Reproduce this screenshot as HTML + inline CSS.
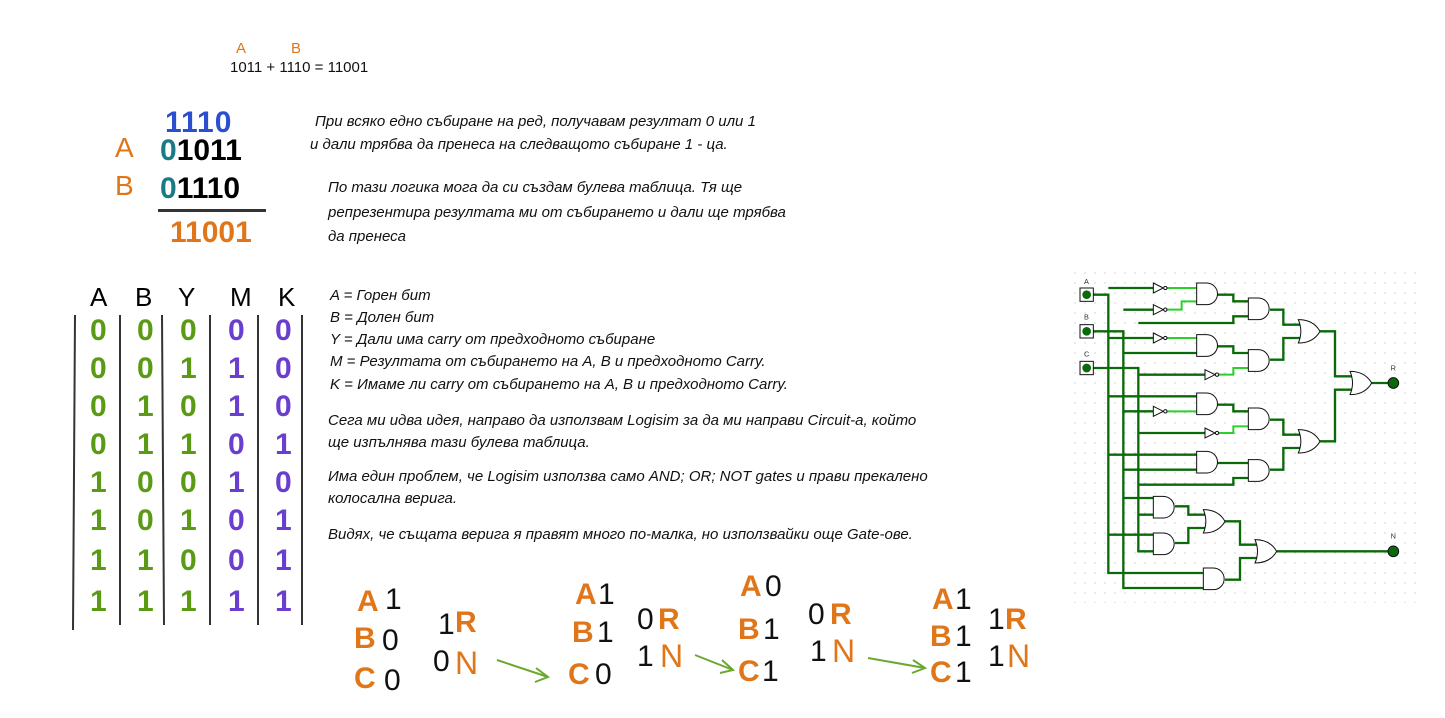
<!DOCTYPE html>
<html><head><meta charset="utf-8"><style>
body{margin:0;width:1445px;height:718px;background:#fff;position:relative;overflow:hidden;font-family:"Liberation Sans",sans-serif;}
.t{position:absolute;white-space:nowrap;color:#111;font-size:15px;font-family:"Liberation Sans","DejaVu Sans",sans-serif;font-style:italic;}
.h{position:absolute;white-space:nowrap;font-weight:bold;font-family:"Liberation Sans",sans-serif;}
.o{color:#e0761a}.g{color:#5a9a14}.p{color:#6a3fd0}.b{color:#2a4fd0}.tl{color:#1a7a85}.k{color:#111}
</style></head><body>
<div>
<span class="h o" style="left:236px;top:40px;font-size:15px;font-weight:normal">A</span>
<span class="h o" style="left:291px;top:40px;font-size:15px;font-weight:normal">B</span>
<span class="t" style="left:230px;top:59px;font-style:normal;font-size:15px">1011 + 1110 = 11001</span>
</div>
<div>
<span class="h b" style="left:165px;top:106px;font-size:30px;letter-spacing:1px">1110</span>
<span class="h o" style="left:115px;top:132px;font-size:28px;font-weight:normal">A</span>
<span class="h" style="left:160px;top:134px;font-size:30px"><span class="tl">0</span>1011</span>
<span class="h o" style="left:115px;top:170px;font-size:28px;font-weight:normal">B</span>
<span class="h" style="left:160px;top:172px;font-size:30px"><span class="tl">0</span>1110</span>
<div style="position:absolute;left:158px;top:209px;width:108px;height:3px;background:#333"></div>
<span class="h o" style="left:170px;top:216px;font-size:30px">11001</span>
</div>
<div>
<span class="t" style="left:315px;top:113px">При всяко едно събиране на ред, получавам резултат 0 или 1</span>
<span class="t" style="left:310px;top:136px">и дали трябва да пренеса на следващото събиране 1 - ца.</span>
<span class="t" style="left:328px;top:179px">По тази логика мога да си създам булева таблица. Тя ще</span>
<span class="t" style="left:328px;top:204px">репрезентира резултата ми от събирането и дали ще трябва</span>
<span class="t" style="left:328px;top:228px">да пренеса</span>
<span class="t" style="left:330px;top:287px">A = Горен бит</span>
<span class="t" style="left:330px;top:309px">B = Долен бит</span>
<span class="t" style="left:330px;top:331px">Y = Дали има carry от предходното събиране</span>
<span class="t" style="left:330px;top:353px">M = Резултата от събирането на A, B и предходното Carry.</span>
<span class="t" style="left:330px;top:376px">K = Имаме ли carry от събирането на A, B и предходното Carry.</span>
<span class="t" style="left:328px;top:412px">Сега ми идва идея, направо да използвам Logisim за да ми направи Circuit-а, който</span>
<span class="t" style="left:328px;top:434px">ще изпълнява тази булева таблица.</span>
<span class="t" style="left:328px;top:468px">Има един проблем, че Logisim използва само AND; OR; NOT gates и прави прекалено</span>
<span class="t" style="left:328px;top:490px">колосална верига.</span>
<span class="t" style="left:328px;top:526px">Видях, че същата верига я правят много по-малка, но използвайки още Gate-ове.</span>
</div>
<div>
<svg width="320" height="350" style="position:absolute;left:60px;top:280px">
<g stroke="#333" stroke-width="2">
<line x1="15" y1="35" x2="13" y2="350"/><line x1="60" y1="35" x2="60" y2="345"/>
<line x1="102" y1="35" x2="104" y2="345"/><line x1="150" y1="35" x2="150" y2="345"/>
<line x1="198" y1="35" x2="198" y2="345"/><line x1="242" y1="35" x2="242" y2="345"/>
</g></svg>
<span class="h" style="left:90px;top:282px;font-size:26px;font-weight:normal">A</span>
<span class="h" style="left:135px;top:282px;font-size:26px;font-weight:normal">B</span>
<span class="h" style="left:178px;top:282px;font-size:26px;font-weight:normal">Y</span>
<span class="h" style="left:230px;top:282px;font-size:26px;font-weight:normal">M</span>
<span class="h" style="left:278px;top:282px;font-size:26px;font-weight:normal">K</span>
<div id="rows"></div>
</div>
<div>
<span class="h o" style="left:357px;top:585px;font-size:30px">A</span><span class="h k" style="left:385px;top:583px;font-size:30px;font-weight:normal">1</span>
<span class="h o" style="left:354px;top:622px;font-size:30px">B</span><span class="h k" style="left:382px;top:624px;font-size:30px;font-weight:normal">0</span>
<span class="h o" style="left:354px;top:662px;font-size:30px">C</span><span class="h k" style="left:384px;top:664px;font-size:30px;font-weight:normal">0</span>
<span class="h k" style="left:438px;top:608px;font-size:30px;font-weight:normal">1</span><span class="h o" style="left:455px;top:606px;font-size:30px">R</span>
<span class="h k" style="left:433px;top:645px;font-size:30px;font-weight:normal">0</span><span class="h o" style="left:455px;top:645px;font-size:32px;font-weight:normal">N</span>

<span class="h o" style="left:575px;top:578px;font-size:30px">A</span><span class="h k" style="left:598px;top:578px;font-size:30px;font-weight:normal">1</span>
<span class="h o" style="left:572px;top:616px;font-size:30px">B</span><span class="h k" style="left:597px;top:616px;font-size:30px;font-weight:normal">1</span>
<span class="h o" style="left:568px;top:658px;font-size:30px">C</span><span class="h k" style="left:595px;top:658px;font-size:30px;font-weight:normal">0</span>
<span class="h k" style="left:637px;top:603px;font-size:30px;font-weight:normal">0</span><span class="h o" style="left:658px;top:603px;font-size:30px">R</span>
<span class="h k" style="left:637px;top:640px;font-size:30px;font-weight:normal">1</span><span class="h o" style="left:660px;top:638px;font-size:32px;font-weight:normal">N</span>

<span class="h o" style="left:740px;top:570px;font-size:30px">A</span><span class="h k" style="left:765px;top:570px;font-size:30px;font-weight:normal">0</span>
<span class="h o" style="left:738px;top:613px;font-size:30px">B</span><span class="h k" style="left:763px;top:613px;font-size:30px;font-weight:normal">1</span>
<span class="h o" style="left:738px;top:655px;font-size:30px">C</span><span class="h k" style="left:762px;top:655px;font-size:30px;font-weight:normal">1</span>
<span class="h k" style="left:808px;top:598px;font-size:30px;font-weight:normal">0</span><span class="h o" style="left:830px;top:598px;font-size:30px">R</span>
<span class="h k" style="left:810px;top:635px;font-size:30px;font-weight:normal">1</span><span class="h o" style="left:832px;top:633px;font-size:32px;font-weight:normal">N</span>

<span class="h o" style="left:932px;top:583px;font-size:30px">A</span><span class="h k" style="left:955px;top:583px;font-size:30px;font-weight:normal">1</span>
<span class="h o" style="left:930px;top:620px;font-size:30px">B</span><span class="h k" style="left:955px;top:620px;font-size:30px;font-weight:normal">1</span>
<span class="h o" style="left:930px;top:656px;font-size:30px">C</span><span class="h k" style="left:955px;top:656px;font-size:30px;font-weight:normal">1</span>
<span class="h k" style="left:988px;top:603px;font-size:30px;font-weight:normal">1</span><span class="h o" style="left:1005px;top:603px;font-size:30px">R</span>
<span class="h k" style="left:988px;top:640px;font-size:30px;font-weight:normal">1</span><span class="h o" style="left:1007px;top:638px;font-size:32px;font-weight:normal">N</span>
<svg width="1445" height="718" style="position:absolute;left:0;top:0">
<g stroke="#6aa830" stroke-width="2" fill="none">
<path d="M497 660 L548 677 M536 668 L548 677 L535 682"/>
<path d="M695 655 L733 670 M722 660 L733 670 L720 673"/>
<path d="M868 658 L925 668 M913 660 L925 668 L912 673"/>
</g></svg>
</div>
<svg width="350" height="335" viewBox="0 0 1050 1005" style="position:absolute;left:1070px;top:268px">
<defs><pattern id="dots" width="30" height="30" patternUnits="userSpaceOnUse"><circle cx="15" cy="15" r="2" fill="#bbb"/></pattern></defs>
<rect width="1050" height="1005" fill="#fff"/><rect width="1050" height="1005" fill="url(#dots)"/>
<g stroke="#0a6a0a" stroke-width="7" fill="none">
<path d="M70 80H115V915H400M115 60H250M115 210H250M115 385H380M115 560H380M115 800H250"/>
<path d="M70 190H160V960H400M160 125H250M160 255H380M160 430H250M160 605H380M160 690H250"/>
<path d="M70 300H205V850H250M205 165H490V145H535M205 320H405M205 495H405M205 650H490V630H535M205 740H250"/>
<path d="M440 80H490V100H535M440 235H490V255H535M440 410H490V430H535M440 585H535M600 125H640V170H690M600 275H640V210H690M600 455H640V500H690M600 605H640V540H690M745 190H795V325H845M745 520H795V365H845M905 345H955M315 715H355V740H405M315 825H355V780H405M465 760H510V830H560M465 935H510V870H560M620 850H955"/>
</g>
<g stroke="#2bd02b" stroke-width="6" fill="none">
<path d="M290 60H380M290 125H335V100H380M290 210H380M445 320H490V300H535M290 430H380M445 495H490V475H535"/>
</g>
<g stroke="#111" stroke-width="3" fill="#fff">
<path d="M380 45H410A32 32 0 0 1 410 110H380Z"/><path d="M535 90H565A32 32 0 0 1 565 155H535Z"/>
<path d="M380 200H410A32 32 0 0 1 410 265H380Z"/><path d="M535 245H565A32 32 0 0 1 565 310H535Z"/>
<path d="M380 375H410A32 32 0 0 1 410 440H380Z"/><path d="M535 420H565A32 32 0 0 1 565 485H535Z"/>
<path d="M380 550H410A32 32 0 0 1 410 615H380Z"/><path d="M535 575H565A32 32 0 0 1 565 640H535Z"/>
<path d="M250 685H280A32 32 0 0 1 280 750H250Z"/><path d="M250 795H280A32 32 0 0 1 280 860H250Z"/>
<path d="M400 900H430A32 32 0 0 1 430 965H400Z"/>
<path d="M685 155Q730 155 750 190Q730 225 685 225Q700 190 685 155Z"/>
<path d="M685 485Q730 485 750 520Q730 555 685 555Q700 520 685 485Z"/>
<path d="M840 310Q885 310 905 345Q885 380 840 380Q855 345 840 310Z"/>
<path d="M400 725Q445 725 465 760Q445 795 400 795Q415 760 400 725Z"/>
<path d="M555 815Q600 815 620 850Q600 885 555 885Q570 850 555 815Z"/>
<path d="M250 45L280 60L250 75Z"/><path d="M250 110L280 125L250 140Z"/><path d="M250 195L280 210L250 225Z"/>
<path d="M405 305L435 320L405 335Z"/><path d="M250 415L280 430L250 445Z"/><path d="M405 480L435 495L405 510Z"/>
<circle cx="286" cy="60" r="5"/><circle cx="286" cy="125" r="5"/><circle cx="286" cy="210" r="5"/><circle cx="441" cy="320" r="5"/><circle cx="286" cy="430" r="5"/><circle cx="441" cy="495" r="5"/>
<rect x="30" y="60" width="40" height="40"/><rect x="30" y="170" width="40" height="40"/><rect x="30" y="280" width="40" height="40"/>
</g>
<g fill="#0a6a0a"><circle cx="50" cy="80" r="13"/><circle cx="50" cy="190" r="13"/><circle cx="50" cy="300" r="13"/>
<circle cx="970" cy="345" r="16" stroke="#111" stroke-width="3"/><circle cx="970" cy="850" r="16" stroke="#111" stroke-width="3"/></g>
<g font-family="Liberation Sans" font-size="22" fill="#333"><text x="42" y="48">A</text><text x="42" y="155">B</text><text x="42" y="265">C</text><text x="962" y="308">R</text><text x="962" y="812">N</text></g>
</svg>
<script>
const A=[0,0,0,0,1,1,1,1],B=[0,0,1,1,0,0,1,1],Y=[0,1,0,1,0,1,0,1],M=[0,1,1,0,1,0,0,1],K=[0,0,0,1,0,1,1,1];
const rowsY=[314,352,390,428,466,504,544,585];
const cols=[[A,90,'g'],[B,137,'g'],[Y,180,'g'],[M,228,'p'],[K,275,'p']];
const host=document.getElementById('rows');
cols.forEach(([arr,x,c],ci)=>arr.forEach((v,i)=>{
 const s=document.createElement('span');
 s.className='h '+c;
 s.style.cssText='left:'+x+'px;top:'+rowsY[i]+'px;font-size:30px';
 s.textContent=v;
 
 
 host.appendChild(s);
}));
</script>
</body></html>
